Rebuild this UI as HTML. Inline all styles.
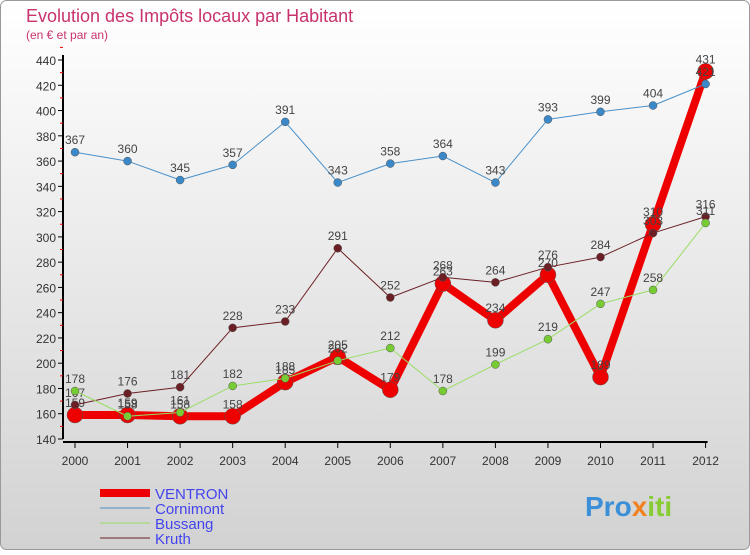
<!DOCTYPE html>
<html><head><meta charset="utf-8"><style>
body{margin:0;width:750px;height:550px;overflow:hidden;font-family:"Liberation Sans",sans-serif}
</style></head><body>
<svg width="750" height="550" xmlns="http://www.w3.org/2000/svg">
<defs><linearGradient id="bg" x1="0" y1="0" x2="0" y2="1"><stop offset="0" stop-color="#ffffff"/><stop offset="1" stop-color="#d2d2d2"/></linearGradient></defs>
<rect x="0.5" y="0.5" width="749" height="549" rx="6" fill="url(#bg)" stroke="#999"/>
<text x="26" y="22" font-size="18" fill="#c8326e">Evolution des Impôts locaux par Habitant</text>
<text x="26" y="39" font-size="12" fill="#c8326e">(en € et par an)</text>
<g id="axes"></g><g id="series"></g><g id="legend"></g>
<text x="585" y="516" font-size="28" font-weight="bold" fill="#3a8fd8">Pro<tspan fill="#f08020">x</tspan><tspan fill="#8c3">iti</tspan></text>
</svg>
<script>
const years=[2000,2001,2002,2003,2004,2005,2006,2007,2008,2009,2010,2011,2012];
const ventron=[159,159,158,158,185,205,179,263,234,270,189,310,431];
const cornimont=[367,360,345,357,391,343,358,364,343,393,399,404,421];
const bussang=[178,158,161,182,188,202,212,178,199,219,247,258,311];
const kruth=[167,176,181,228,233,291,252,268,264,276,284,303,316];
const yTicks=[140,160,180,200,220,240,260,280,300,320,340,360,380,400,420,440];
const NS="http://www.w3.org/2000/svg";
const X=i=>75+i*52.55, Y=v=>439-(v-140)*1.2633;
function mk(t,a,p){const e=document.createElementNS(NS,t);for(const k in a)e.setAttribute(k,a[k]);p.appendChild(e);return e;}
const ax=document.getElementById('axes');
const yl=mk('line',{x1:63,y1:Y(440)-5,x2:63,y2:Y(140),stroke:'#000','stroke-width':2},ax);


yTicks.forEach(v=>{mk('line',{x1:58,y1:Y(v),x2:63,y2:Y(v),stroke:'#000'},ax);
mk('line',{x1:60,y1:Y(v+10),x2:63,y2:Y(v+10),stroke:'#e00'},ax);
const t=mk('text',{x:56,y:Y(v)+5,'text-anchor':'end','font-size':12,fill:'#333'},ax);t.textContent=v;

});
const xl=mk('line',{x1:63,y1:Y(140)+3,x2:X(12)+2,y2:Y(140)+3,stroke:'#000','stroke-width':2},ax);


years.forEach((y,i)=>{mk('line',{x1:X(i),y1:Y(140)+3,x2:X(i),y2:Y(140)+9,stroke:'#000'},ax);
const t=mk('text',{x:X(i),y:Y(140)+26,'text-anchor':'middle','font-size':12,fill:'#333'},ax);t.textContent=y;

});
const sg=document.getElementById('series');
const S=[['ventron',ventron,'#ee0000',8,8],['kruth',kruth,'#6b1f24',1,4],['bussang',bussang,'#99dd66',1,4],['cornimont',cornimont,'#4a90c8',1,4]];
const dotCol={kruth:'#6b1f24',bussang:'#77cc33',cornimont:'#3a88c8',ventron:'#ee0000'};
S.forEach(([n,d,c,w,r])=>{const g=mk('g',{},sg);


mk('polyline',{points:d.map((v,i)=>X(i)+','+Y(v)).join(' '),fill:'none',stroke:c,'stroke-width':w,'stroke-linejoin':'round'},g);
d.forEach((v,i)=>{const p=mk('circle',{cx:X(i),cy:Y(v),r:r,fill:dotCol[n],stroke:'#555','stroke-width':0.5},g);


const t=mk('text',{x:X(i),y:Y(v)-8,'text-anchor':'middle','font-size':12,fill:'#444'},g);t.textContent=v;

});});
const lg=document.getElementById('legend');
[['VENTRON','#ee0000',8],['Cornimont','#4a90c8',1],['Bussang','#99dd66',1],['Kruth','#6b1f24',1]].forEach(([n,c,w],k)=>{
const y=493+k*15;const g=mk('g',{},lg);


mk('line',{x1:100,y1:y,x2:150,y2:y,stroke:c,'stroke-width':w},g);
const t=mk('text',{x:155,y:y+6,'font-size':15,fill:'#4444ee'},g);t.textContent=n;});
</script>
</body></html>
